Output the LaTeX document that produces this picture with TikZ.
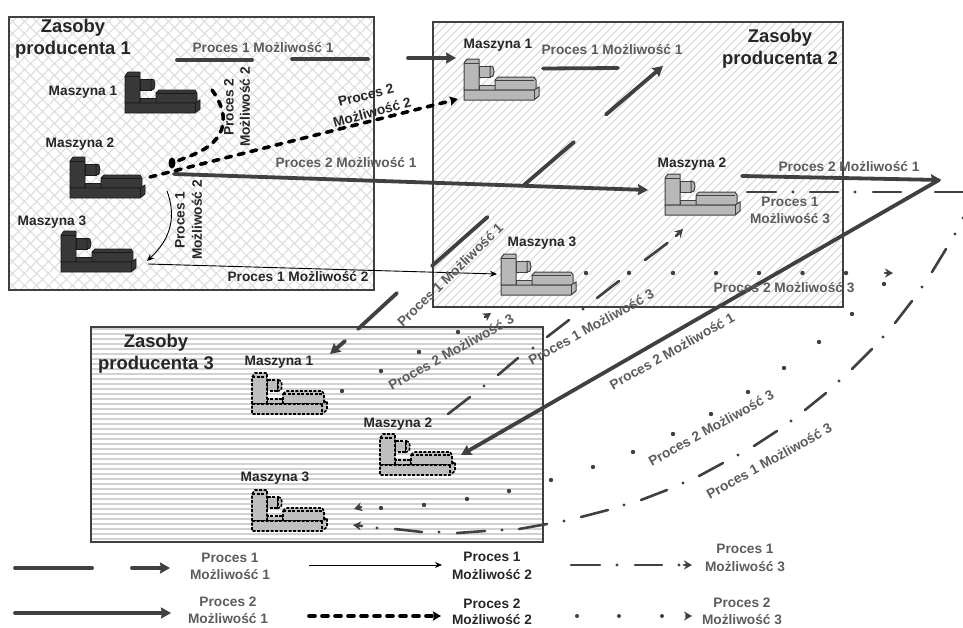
\documentclass[tikz,border=0pt]{standalone}
\usepackage{fontspec}
\setmainfont{Liberation Sans}
\usetikzlibrary{arrows.meta}
\definecolor{ink}{gray}{0.25}
\definecolor{txt}{gray}{0.36}
\tikzset{
  thick line/.style={draw=ink,line width=3.8pt,line cap=round},
  thick arrow/.style={thick line,-{Stealth[length=10pt,width=11pt,inset=1pt]}},
  thin arrow/.style={draw=black,line width=.9pt,-{Stealth[length=7pt,width=6pt]}},
  dashdot line/.style={draw=ink,line width=2.6pt,line cap=round},
  dashdot arrow/.style={dashdot line,-{Stealth[length=8pt,width=9pt]}},
  blk dash/.style={draw=black,line width=3.6pt,line cap=round,dash pattern=on 6pt off 7pt},
  blk dash arrow/.style={blk dash,-{Stealth[length=8pt,width=9pt,inset=1pt]}},
  base text/.style={font=\fontsize{13.7}{15}\selectfont\bfseries,inner sep=0pt},
  grey text/.style={base text,text=txt},
  blk text/.style={base text,text=black!85},
  title text/.style={font=\fontsize{18.4}{20}\selectfont\bfseries,text=black!85,inner sep=0pt},
  box frame/.style={draw=black!75,line width=1.2pt},
  mach dark/.style={draw=black!90,fill=black!78,line width=.8pt},
  mach light/.style={draw=black!75,fill=black!28,line width=1pt},
  mach dash/.style={draw=black,fill=black!25,line width=1.6pt,line join=miter,dash pattern=on 3pt off 1.5pt},
}
\newcommand\Machine[4]{%
  \coordinate (#1) at (#2,#3);
  \begin{scope}[shift={(#1)},every path/.append style={#4}]
    \path[draw,fill] (15,26) rectangle (31,31);
    \path[draw,fill] (15,7) rectangle (26,18);
    \path[draw,fill] (26,7) -- (29,8) -- (30,12.5) -- (29,17) -- (26,18) -- cycle;
    \path[draw,fill] (0,4) -- (3,0) -- (15,0) -- (15,31) -- (0,31) -- cycle;
    \path[draw] (0,4) -- (15,4);
    \path[draw,fill] (31,21) -- (34,18) -- (70,18) -- (72,21) -- (72,31) -- (31,31) -- cycle;
    \path[draw] (31,21) -- (70,21);
    \path[draw,fill] (0,31) -- (70,31) -- (75,28) -- (75,37) -- (70,41) -- (0,41) -- cycle;
    \path[draw] (70,31) -- (70,41);
  \end{scope}}
\newcommand\Seg[4][thick line]{%
  \coordinate (#2a) at (#3);
  \coordinate (#2b) at (#4);
  \draw[#1] (#2a) -- (#2b);}
\newcommand\Dots[2]{%
  \foreach \px/\py in {#2} {\fill[ink] (\px,\py) circle[radius=#1];}}
\begin{document}
\begin{tikzpicture}[x=1pt,y=-1pt]
\useasboundingbox (0,0) rectangle (963,627);
% ---------- resource boxes
\begin{scope}
  \clip (9,17) rectangle (374,290);
  \foreach \i in {-280,-268,...,380} {
    \draw[black!16,line width=.8pt] (\i,17) -- ({\i+273},290);
    \draw[black!16,line width=.8pt] ({\i+273},17) -- (\i,290);
  }
\end{scope}
\draw[box frame] (9,17) rectangle (374,290);
\begin{scope}
  \clip (433,22) rectangle (843,307);
  \foreach \i in {425,433,...,1140} {
    \draw[black!18,line width=1pt] (\i,22) -- ({\i-285},307);
  }
\end{scope}
\draw[box frame] (433,22) rectangle (843,307);
\begin{scope}
  \clip (91,327) rectangle (543,542);
  \foreach \i in {329,334,...,542} {
    \draw[black!18,line width=2.4pt] (91,\i) -- (543,\i);
  }
\end{scope}
\draw[box frame] (91,327) rectangle (543,542);
% ---------- machines
\Machine{aM}{125}{72}{mach dark}
\Machine{bM}{70}{157}{mach dark}
\Machine{cM}{61}{231}{mach dark}
\Machine{dM}{464}{59}{mach light}
\Machine{eM}{665}{174}{mach light}
\Machine{fM}{501}{254}{mach light}
\Machine{gM}{252}{373}{mach dash}
\Machine{hM}{380}{434}{mach dash}
\Machine{iM}{252}{490}{mach dash}
% ---------- Proces 1 Mozliwosc 1
\Seg{pa}{177,60}{252,60}
\Seg{pb}{292,59}{368,59}
\Seg[thick arrow]{pc}{408,58}{456,58}
\Seg{pd}{543,68.5}{618,68}
\Seg[thick arrow]{pe}{606,114.5}{663,66}
\Seg{pf}{574,142}{524,185}
\Seg{pg}{487.5,217}{432,266}
\Seg{ph}{397,293}{358,329}
\Seg[thick arrow]{pi}{345,341}{330,354}
% ---------- Proces 2 Mozliwosc 1
\Seg[thick arrow]{qa}{174,174}{648,190}
\Seg[thick arrow]{qb}{742,176}{941,180}
\Seg[thick arrow]{qc}{939,180}{461,455}
% ---------- Proces 1 Mozliwosc 2
\coordinate (ra) at (167,191);
\coordinate (rb) at (147,261);
\draw[thin arrow] (ra) .. controls (176,215) and (172,238) .. (rb);
\Seg[thin arrow]{rc}{148,264}{497,274}
% ---------- Proces 2 Mozliwosc 2
\coordinate (sa) at (212,90);
\coordinate (sb) at (172,163);
\draw[blk dash] (sa) .. controls (228,112) and (232,140) .. (190,156) -- (sb);
\fill[black] (sb) ellipse[x radius=3.5,y radius=5.5];
\Seg[blk dash arrow]{sc}{150,177}{458,99}
% ---------- Proces 1 Mozliwosc 3
\Seg[dashdot line]{ta}{448,414}{470,397}
\Seg[dashdot line]{tb}{498,375}{518,358}
\Seg[dashdot line]{tc}{547,337}{569,320}
\Seg[dashdot line]{td}{597,298}{619,281}
\Seg[dashdot line]{te}{645,260}{667.5,243}
\Seg[dashdot arrow]{tf}{676,236}{683,229}
\Dots{1.7}{484/386,533/348,583/309,629/272}
\Seg[dashdot line]{ua}{747,192}{776,192}
\Seg[dashdot line]{ub}{810,192}{838,192}
\Seg[dashdot line]{uc}{873,192}{901,192}
\Seg[dashdot line]{ud}{935,192}{963,192}
\Seg[dashdot line]{ue}{946,249}{932,272}
\Seg[dashdot line]{uf}{912,301}{895,323}
\Seg[dashdot line]{ug}{872,349}{852,369}
\Seg[dashdot line]{uh}{826,393}{805,410}
\Seg[dashdot line]{ui}{777,431}{754,446}
\Seg[dashdot line]{uj}{723,463}{699,476}
\Seg[dashdot line]{uk}{667,490}{641,500}
\Seg[dashdot line]{ul}{608,510}{581,517}
\Seg[dashdot line]{um}{547,524}{519,529}
\Seg[dashdot line]{un}{485,531}{457,533}
\Seg[dashdot line]{uo}{422,532}{395,529}
\Seg[dashdot arrow]{up}{362,526}{353,525}
\Dots{1.7}{793/192,855/192,963/218,955/234,922/287,883/337,839/381,791/421,738/455,683/483,624/505,564/521,502/530,439/532,377/528}
% ---------- Proces 2 Mozliwosc 3
\Dots{2.2}{342/391,381/371,419/352,458/332}
\Seg[dashdot arrow]{va}{485,317}{491,313}
\Dots{2.2}{586/273,629/273,673/273,716/273,759/273,802.5/273,846/273}
\Seg[dashdot arrow]{vb}{885,273}{893,273}
\Dots{2.2}{884/284,852/314,819/342,784/368,748/392,711/414,673/434,633/452,593/467,551/480,509/491,467/499,424/505,381/508}
\Seg[dashdot arrow]{vc}{361,507}{354,509}
% ---------- labels, resource box 1
\node[title text] (t1a) at (73,28) {Zasoby};
\node[title text] (t1b) at (73,50) {producenta 1};
\node[blk text] (m1a) at (83,92) {Maszyna 1};
\node[blk text] (m1b) at (80,144) {Maszyna 2};
\node[blk text] (m1c) at (52,222) {Maszyna 3};
\node[grey text] (l1) at (263,48) {Proces 1 Możliwość 1};
\node[blk text,rotate=90] (l2) at (229,107) {Proces 2};
\node[blk text,rotate=90] (l3) at (245,107) {Możliwość 2};
\node[blk text,rotate=15] (l4) at (366,95) {Proces 2};
\node[blk text,rotate=15] (l5) at (372,112) {Możliwość 2};
\node[grey text] (l6) at (346,163) {Proces 2 Możliwość 1};
\node[blk text,rotate=90] (l7) at (180,220) {Proces 1};
\node[blk text,rotate=90] (l8) at (197,220) {Możliwość 2};
\node[blk text] (l9) at (298,277) {Proces 1 Możliwość 2};
% ---------- labels, resource box 2
\node[blk text] (m2a) at (498,45) {Maszyna 1};
\node[grey text] (n1) at (612,50) {Proces 1 Możliwość 1};
\node[title text] (t2a) at (780,38) {Zasoby};
\node[title text] (t2b) at (780,60) {producenta 2};
\node[blk text] (m2b) at (692,164) {Maszyna 2};
\node[grey text] (n2) at (849,167) {Proces 2 Możliwość 1};
\node[grey text] (n3) at (790,202) {Proces 1};
\node[grey text] (n4) at (790,219) {Możliwość 3};
\node[blk text] (m2c) at (542,243) {Maszyna 3};
\node[grey text] (n5) at (784,288) {Proces 2 Możliwość 3};
% ---------- rotated labels
\node[grey text,rotate=44] (o1) at (450,275) {Proces 1 Możliwość 1};
\node[grey text,rotate=29] (o2) at (451,352) {Proces 2 Możliwość 3};
\node[grey text,rotate=29] (o3) at (591,327) {Proces 1 Możliwość 3};
\node[grey text,rotate=29.5] (o4) at (672,351) {Proces 2 Możliwość 1};
\node[grey text,rotate=29] (o5) at (711,428) {Proces 2 Możliwość 3};
\node[grey text,rotate=29] (o6) at (769,461) {Proces 1 Możliwość 3};
% ---------- labels, resource box 3
\node[title text] (t3a) at (156,343) {Zasoby};
\node[title text] (t3b) at (156,365) {producenta 3};
\node[blk text] (m3a) at (279,362) {Maszyna 1};
\node[blk text] (m3b) at (398,424) {Maszyna 2};
\node[blk text] (m3c) at (275,478) {Maszyna 3};
% ---------- legend
\Seg{ka}{15,568}{92,568}
\Seg[thick arrow]{kb}{132,568}{170,568}
\node[grey text] (k1) at (230,558) {Proces 1};
\node[grey text] (k2) at (230,575) {Możliwość 1};
\Seg[thin arrow]{kc}{309,565}{442,565}
\node[blk text] (k3) at (492,557) {Proces 1};
\node[blk text] (k4) at (492,575) {Możliwość 2};
\Seg[dashdot line]{kd}{571,565}{600,565}
\Seg[dashdot line]{ke}{635,565}{662,565}
\Seg[dashdot arrow]{kf}{684,565}{692,565}
\Dots{1.7}{617/565,679/565}
\node[grey text] (k5) at (745,549) {Proces 1};
\node[grey text] (k6) at (745,567) {Możliwość 3};
\Seg[thick arrow]{kg}{15,613}{171,613}
\node[grey text] (k7) at (228,602) {Proces 2};
\node[grey text] (k8) at (228,619) {Możliwość 1};
\Seg[blk dash arrow]{kh}{309,616}{441,616}
\node[blk text] (k9) at (492,604) {Proces 2};
\node[blk text] (k10) at (492,619.5) {Możliwość 2};
\Dots{2}{577/616,619/616,662/616}
\Seg[dashdot arrow]{ki}{686,616}{692,616}
\node[grey text] (k11) at (742,603) {Proces 2};
\node[grey text] (k12) at (742,620) {Możliwość 3};
\end{tikzpicture}
\end{document}
